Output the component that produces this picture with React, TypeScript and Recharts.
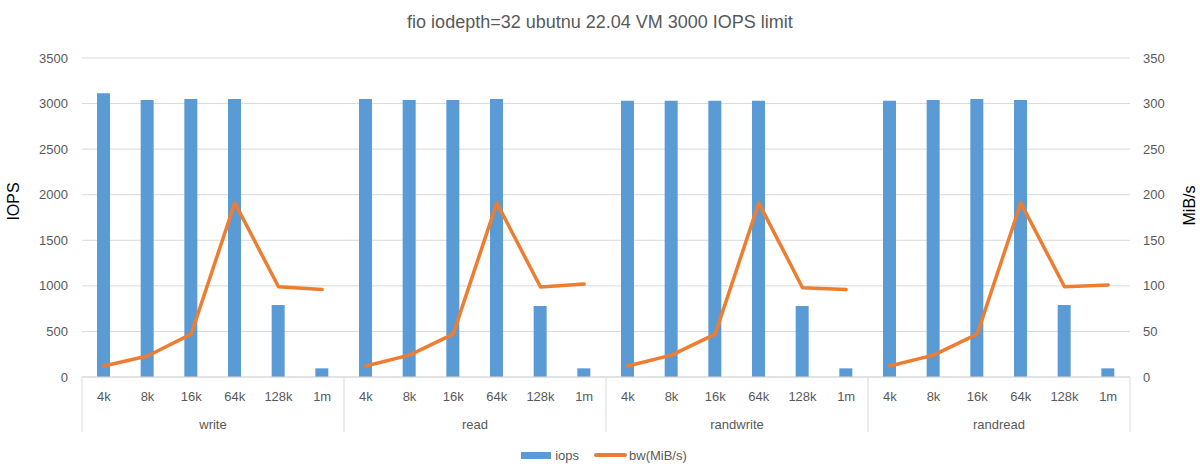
import React from "react"
import { Bar, ComposedChart, Line, XAxis, YAxis, CartesianGrid, Legend } from "recharts"

const sizes = ["4k", "8k", "16k", "64k", "128k", "1m"]
const groups = ["write", "read", "randwrite", "randread"]

const iopsWrite = [3113, 3039, 3050, 3050, 790, 95]
const iopsRead = [3050, 3039, 3039, 3050, 779, 95]
const iopsRandwrite = [3031, 3031, 3031, 3031, 779, 95]
const iopsRandread = [3031, 3039, 3050, 3039, 790, 95]

const bwWrite = [12, 23, 47, 191, 99, 96]
const bwRead = [12, 24, 47, 191, 98.7, 102]
const bwRandwrite = [12, 24, 47, 191, 98, 96]
const bwRandread = [12, 24, 47, 191, 99, 101]

const leftTicks = [0, 500, 1000, 1500, 2000, 2500, 3000, 3500]
const rightTicks = [0, 50, 100, 150, 200, 250, 300, 350]

const iopsByGroup = [iopsWrite, iopsRead, iopsRandwrite, iopsRandread]
const bwByGroup = [bwWrite, bwRead, bwRandwrite, bwRandread]
const bwKeys = ["bw_write", "bw_read", "bw_randwrite", "bw_randread"]

const data = groups.flatMap((group, gi) =>
  sizes.map((size, si) => {
    const row: any = { id: `${group}-${size}`, size, group, iops: iopsByGroup[gi][si] }
    bwKeys.forEach((k, ki) => {
      row[k] = ki === gi ? bwByGroup[gi][si] : null
    })
    return row
  })
)

const BLUE = "#5b9bd5"
const ORANGE = "#ed7d31"
const GRID = "#d9d9d9"
const TEXT = "#595959"
const FONT = "'Liberation Sans', Arial, sans-serif"

const CategoryTick = (props: any) => {
  const { x, y, payload } = props
  const index = payload.index
  const half = payload.offset || 21.83
  const row = data[index]
  const per = sizes.length
  return (
    <g>
      <text x={x} y={y + 24} textAnchor="middle" fill={TEXT} fontSize={13} fontFamily={FONT}>
        {row ? row.size : ""}
      </text>
      {index % per === 0 && <line x1={x - half} x2={x - half} y1={y} y2={y + 55} stroke={GRID} strokeWidth={1} />}
      {index === data.length - 1 && (
        <line x1={x + half} x2={x + half} y1={y} y2={y + 55} stroke={GRID} strokeWidth={1} />
      )}
      {index % per === 2 && (
        <text x={x + half} y={y + 52} textAnchor="middle" fill={TEXT} fontSize={13} fontFamily={FONT}>
          {row.group}
        </text>
      )}
    </g>
  )
}

const LegendContent = () => (
  <div
    style={{
      display: "flex",
      justifyContent: "center",
      alignItems: "center",
      height: 32,
      paddingTop: 14,
      paddingLeft: 8,
      boxSizing: "border-box",
      fontFamily: FONT,
      fontSize: 13,
      color: TEXT,
    }}
  >
    <span style={{ display: "inline-block", width: 30, height: 7, background: BLUE, marginRight: 4 }} />
    <span style={{ marginRight: 15 }}>iops</span>
    <span style={{ display: "inline-block", width: 33, height: 4, borderRadius: 2, background: ORANGE, marginRight: 2 }} />
    <span>bw(MiB/s)</span>
  </div>
)

export default function App() {
  return (
    <div style={{ position: "absolute", left: 0, top: 0, width: 1200, height: 473, background: "#fff" }}>
      <div
        style={{
          position: "absolute",
          top: 12,
          left: 0,
          width: 1200,
          textAlign: "center",
          fontFamily: FONT,
          fontSize: 18,
          color: TEXT,
        }}
      >
        fio iodepth=32 ubutnu 22.04 VM 3000 IOPS limit
      </div>
      <ComposedChart width={1200} height={473} data={data} margin={{ top: 58, right: 0, left: 0, bottom: 9 }}>
        <CartesianGrid vertical={false} stroke={GRID} yAxisId="left" />
        <XAxis
          dataKey="id"
          interval={0}
          height={55}
          tickSize={0}
          tickMargin={0}
          tickLine={false}
          axisLine={{ stroke: GRID }}
          tick={<CategoryTick />}
        />
        <YAxis
          yAxisId="left"
          orientation="left"
          width={82}
          domain={[0, 3500]}
          ticks={leftTicks}
          tickLine={false}
          axisLine={false}
          tickSize={0}
          tickMargin={14}
          tick={{ fill: TEXT, fontSize: 13, fontFamily: FONT }}
          label={{
            value: "IOPS",
            angle: -90,
            position: "insideLeft",
            offset: 13,
            dy: -16,
            style: { fill: "#000", fontSize: 16, fontFamily: FONT, textAnchor: "middle" },
          }}
        />
        <YAxis
          yAxisId="right"
          orientation="right"
          width={70}
          domain={[0, 350]}
          ticks={rightTicks}
          tickLine={false}
          axisLine={false}
          tickSize={0}
          tickMargin={13}
          tick={{ fill: TEXT, fontSize: 13, fontFamily: FONT }}
          label={{
            value: "MiB/s",
            angle: -90,
            position: "insideRight",
            offset: 11,
            dy: -12,
            style: { fill: "#000", fontSize: 16, fontFamily: FONT, textAnchor: "middle" },
          }}
        />
        <Legend verticalAlign="bottom" height={32} content={<LegendContent />} />
        <Bar yAxisId="left" dataKey="iops" name="iops" fill={BLUE} barSize={13} isAnimationActive={false} />
        {bwKeys.map((k) => (
          <Line
            key={k}
            yAxisId="right"
            type="linear"
            dataKey={k}
            name="bw(MiB/s)"
            stroke={ORANGE}
            strokeWidth={3.5}
            strokeLinecap="round"
            strokeLinejoin="round"
            dot={false}
            activeDot={false}
            isAnimationActive={false}
          />
        ))}
      </ComposedChart>
    </div>
  )
}
